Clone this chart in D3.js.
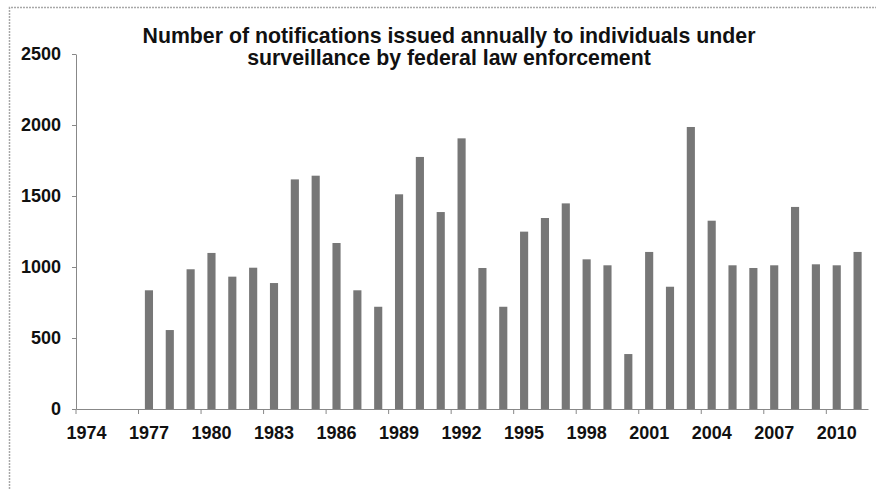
<!DOCTYPE html>
<html>
<head>
<meta charset="utf-8">
<script src="https://cdn.jsdelivr.net/npm/d3@7"></script>
<style>
  html, body { margin: 0; padding: 0; background: #fff; }
  svg { display: block; }
  text { font-family: "Liberation Sans", Arial, sans-serif; font-weight: bold; fill: #111; }
</style>
</head>
<body>
<svg id="chart" width="876" height="489"></svg>
<script>
// Notifications issued each year, 1974-2011
const years = d3.range(1974, 2012);
const notifications = [
  0, 0, 0, 836, 556, 984, 1099, 932, 995, 887,
  1617, 1643, 1169, 836, 720, 1512, 1775, 1387, 1906, 993,
  720, 1249, 1345, 1448, 1054, 1012, 387, 1106, 861, 1986,
  1326, 1012, 993, 1012, 1423, 1019, 1012, 1106
];
const yTicks = [0, 500, 1000, 1500, 2000, 2500];
const labelYears = [1974, 1977, 1980, 1983, 1986, 1989, 1992, 1995, 1998, 2001, 2004, 2007, 2010];
const titleLines = [
  "Number of notifications issued annually to individuals under",
  "surveillance by federal law enforcement"
];

const svg = d3.select("#chart");
const W = 876, H = 489;
const plot = { left: 76, right: 868, top: 54, bottom: 409 };

// Chart area frame (left and top edges visible)
svg.append("path")
  .attr("d", `M9.5,${H} V7.5 H${W}`)
  .attr("fill", "none")
  .attr("stroke", "#a8a8a8")
  .attr("stroke-width", 1.5)
  .attr("stroke-dasharray", "2,1");

const x = d3.scaleBand().domain(years).range([plot.left, plot.right]).padding(0);
const y = d3.scaleLinear().domain([0, 2500]).range([plot.bottom, plot.top]);

// Title
svg.append("g").selectAll("text")
  .data(titleLines)
  .join("text")
  .attr("x", 449)
  .attr("y", (d, i) => 43 + i * 22)
  .attr("text-anchor", "middle")
  .style("font-size", "21.3px")
  .text(d => d);

// Bars
const barW = x.bandwidth() * 0.39;
svg.append("g").selectAll("rect")
  .data(years.map((yr, i) => ({ yr, v: notifications[i] })).filter(d => d.v > 0))
  .join("rect")
  .attr("x", d => x(d.yr) + (x.bandwidth() - barW) / 2)
  .attr("y", d => y(d.v))
  .attr("width", barW)
  .attr("height", d => y(0) - y(d.v))
  .attr("fill", "#777777");

// Y axis
const yAxis = svg.append("g")
  .attr("transform", `translate(${plot.left},0)`)
  .call(d3.axisLeft(y).tickValues(yTicks).tickSize(4).tickSizeOuter(0).tickPadding(11).tickFormat(d3.format("d")));
yAxis.select(".domain").attr("stroke", "#888");
yAxis.selectAll(".tick line").attr("stroke", "#888");
yAxis.selectAll(".tick text").style("font-size", "18px").attr("fill", "#111");

// X axis: labels centred on categories, tick marks between categories
const xAxis = svg.append("g")
  .attr("transform", `translate(0,${plot.bottom})`)
  .call(d3.axisBottom(x).tickValues(labelYears).tickSize(0).tickSizeOuter(0).tickPadding(17));
xAxis.select(".domain").attr("stroke", "#888");
xAxis.selectAll(".tick text").style("font-size", "18px").attr("fill", "#111");
xAxis.selectAll(".tick").append("line")
  .attr("x1", -x.step() / 2).attr("x2", -x.step() / 2)
  .attr("y1", 0).attr("y2", 5)
  .attr("stroke", "#888");
</script>
</body>
</html>
